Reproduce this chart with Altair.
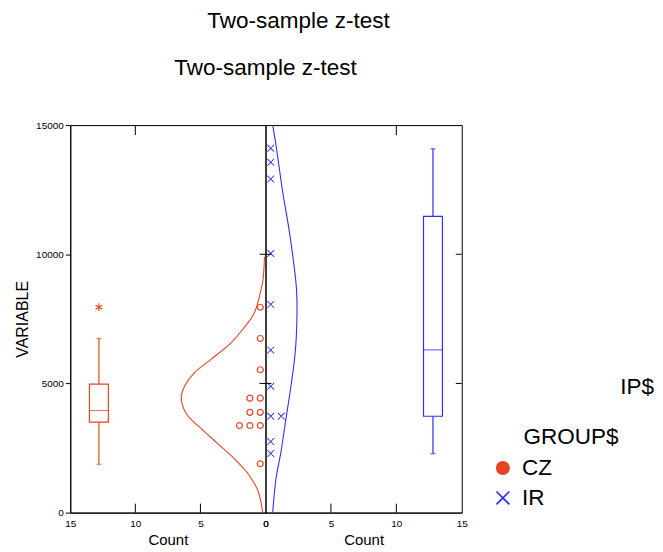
import altair as alt
import pandas as pd

FONT = "Liberation Sans"
TITLE = "Two-sample z-test"
Y_TITLE = "VARIABLE"
X_TITLE = "Count"
LEGEND_TITLE = "GROUP$"
CLIPPED_TEXT = "IP$"
GROUPS = ["CZ", "IR"]
RED = "#e8441f"
BLUE = "#3030f2"

CZ_VALUES = [7950, 6740, 5530, 4430, 4430, 3880, 3880, 3370, 3370, 3370, 1890]
IR_VALUES = [14100, 13560, 12910, 10030, 8060, 6290, 4890, 3730, 3730, 2750, 2290]

# box plot statistics
BOX_STATS = ["lo", "q1", "med", "q3", "hi"]
CZ_BOX = [1870, 3500, 3950, 4970, 6740]
IR_BOX = [2280, 3730, 6300, 11470, 14080]
CZ_OUTLIERS = [7950]

# fitted normal curves (value, count)
CZ_CURVE_VALUE = [0, 798, 1438, 2083, 2661, 3240, 3818, 4450, 4909, 5426, 5939, 6583, 7096, 7740, 8512, 9024, 9900]
CZ_CURVE_COUNT = [0.22, 0.55, 1.24, 2.38, 3.65, 4.92, 6.07, 6.47, 6.20, 5.44, 4.16, 2.63, 1.74, 0.85, 0.40, 0.19, 0.08]
IR_CURVE_VALUE = [0, 1311, 2341, 3625, 4909, 6197, 7482, 8573, 9476, 10887, 12430, 14231, 15000]
IR_CURVE_COUNT = [0.55, 0.80, 1.18, 1.56, 1.95, 2.27, 2.40, 2.38, 2.20, 1.82, 1.31, 0.80, 0.55]

Y_TICK_VALUES = [0, 5000, 10000, 15000]
X_TICK_VALUES = [0, 5, 10, 15]
INNER_Y_TICKS = [5000, 10000]
BOTTOM_TICKS = [5, 10]
TOP_TICKS = [10]

BOX_AT = 12.8
DOT_STEP = 0.8
# filled "x" glyph and asterisk glyph
X_PATH = "M-1,-0.83L-0.83,-1L0,-0.17L0.83,-1L1,-0.83L0.17,0L1,0.83L0.83,1L0,0.17L-0.83,1L-1,0.83L-0.17,0Z"
STAR_PATH = "M0,-1L0,1M-0.87,-0.5L0.87,0.5M-0.87,0.5L0.87,-0.5"

W_L, W_R, H = 196, 197, 389
BIG = 22.6

ys = alt.Scale(domain=[0, 15000], nice=False, zero=False, padding=0)


def panel(values, group, box, cv, cc, color, reverse, width, left):
    xs = alt.Scale(domain=[0, 15], nice=False, zero=False, reverse=reverse, padding=0)
    xax = alt.Axis(values=X_TICK_VALUES, ticks=False, domain=True, domainColor="black",
                   labelFontSize=10, labelPadding=6, labelColor="black", labelFlush=False,
                   labelAlign="center", labelBound=False, labelOverlap=False,
                   labelFont=FONT, title=X_TITLE, titleFontSize=15, titleFontWeight="normal",
                   titleFont=FONT, titlePadding=4, titleColor="black", grid=False)
    if left:
        yax = alt.Axis(values=Y_TICK_VALUES, tickSize=5, tickColor="black", domainColor="black",
                       labelFontSize=10, labelPadding=2, labelColor="black", labelFont=FONT,
                       format="d", title=Y_TITLE, titleFontSize=16, titleFontWeight="normal",
                       titleFont=FONT, titleColor="black", titlePadding=5, grid=False)
    else:
        yax = None

    def X(f):
        return alt.X(f, type="quantitative", scale=xs, axis=xax)

    def Y(f):
        return alt.Y(f, type="quantitative", scale=ys, axis=yax)

    XD = alt.XDatum(BOX_AT, type="quantitative", scale=xs, axis=xax)

    curve_df = pd.DataFrame({"value": cv, "count": cc})
    dots_df = pd.DataFrame({"value": values, "group": group})
    box_df = pd.DataFrame([dict(zip(BOX_STATS, box))])

    curve = alt.Chart(curve_df).mark_line(color=color, strokeWidth=1.1, interpolate="catmull-rom").encode(
        x=X("count"), y=Y("value"), order=alt.Order("value:Q"))

    base_dots = alt.Chart(dots_df).transform_window(
        rank="row_number()", groupby=["value"]).transform_calculate(
        pos=f"(datum.rank - 0.5) * {DOT_STEP}")
    if left:
        dots = base_dots.mark_point(filled=False, size=36, strokeWidth=1.2, opacity=1,
                                    color=color, shape="circle").encode(x=X("pos"), y=Y("value"))
    else:
        leg = alt.Legend(orient="none", legendX=227, legendY=333, title=None,
                         labelFontSize=BIG, labelFont=FONT, labelColor="black", symbolSize=200,
                         symbolStrokeWidth=0, rowPadding=7, labelOffset=8)
        dots = base_dots.mark_point(filled=True, size=56, strokeWidth=0, opacity=1).encode(
            x=X("pos"), y=Y("value"),
            color=alt.Color("group:N", scale=alt.Scale(domain=GROUPS, range=[RED, BLUE]), legend=leg),
            shape=alt.Shape("group:N", scale=alt.Scale(domain=GROUPS, range=["circle", X_PATH]), legend=leg))

    boxm = alt.Chart(box_df).mark_bar(filled=False, color=color, strokeWidth=1.2, size=19).encode(
        x=XD, y=Y("q1"), y2="q3")
    med = alt.Chart(box_df).mark_tick(orient="horizontal", size=19, thickness=1.2, color=color).encode(
        x=XD, y=Y("med"))
    wl = alt.Chart(box_df).mark_rule(color=color, strokeWidth=1.2).encode(x=XD, y=Y("lo"), y2="q1")
    wh = alt.Chart(box_df).mark_rule(color=color, strokeWidth=1.2).encode(x=XD, y=Y("q3"), y2="hi")
    caps = alt.Chart(box_df).transform_fold(["lo", "hi"], as_=["k", "v"]).mark_tick(
        orient="horizontal", size=5, thickness=1.2, color=color).encode(x=XD, y=Y("v:Q"))

    tdf_y = pd.DataFrame({"v": INNER_Y_TICKS})
    tick_layers = []
    if left:
        tick_layers.append(alt.Chart(tdf_y).mark_rule(color="black").encode(
            y=Y("v"), x=alt.value(width - 6), x2=alt.value(width)))
    else:
        tick_layers.append(alt.Chart(tdf_y).mark_rule(color="black").encode(
            y=Y("v"), x=alt.value(0), x2=alt.value(6)))
        tick_layers.append(alt.Chart(tdf_y).mark_rule(color="black").encode(
            y=Y("v"), x=alt.value(width - 6), x2=alt.value(width)))
    tick_layers.append(alt.Chart(pd.DataFrame({"c": BOTTOM_TICKS})).mark_rule(color="black").encode(
        x=X("c"), y=alt.value(H - 9), y2=alt.value(H)))
    tick_layers.append(alt.Chart(pd.DataFrame({"c": TOP_TICKS})).mark_rule(color="black").encode(
        x=X("c"), y=alt.value(0), y2=alt.value(10)))

    layers = [curve, dots, boxm, med, wl, wh, caps] + tick_layers
    if left:
        outl = alt.Chart(pd.DataFrame({"value": CZ_OUTLIERS})).mark_point(
            shape=STAR_PATH, size=60, filled=False, color=color, strokeWidth=1.2, opacity=1).encode(
            x=XD, y=Y("value"))
        layers.append(outl)
    else:
        texts = alt.Chart(pd.DataFrame({"t": [CLIPPED_TEXT, LEGEND_TITLE],
                                        "px": [356, 259], "py": [263, 313]})).mark_text(
            align="left", baseline="middle", fontSize=BIG, font=FONT, color="black").encode(
            text="t:N", x=alt.X("px:Q", scale=None, axis=None), y=alt.Y("py:Q", scale=None, axis=None))
        layers.append(texts)
    return alt.layer(*layers).properties(width=width, height=H)


left = panel(CZ_VALUES, "CZ", CZ_BOX, CZ_CURVE_VALUE, CZ_CURVE_COUNT, RED, True, W_L, True)
right = panel(IR_VALUES, "IR", IR_BOX, IR_CURVE_VALUE, IR_CURVE_COUNT, BLUE, False, W_R, False)

inner = alt.hconcat(left, right, spacing=0, bounds="flush").resolve_scale(
    x="independent", y="independent", color="independent", shape="independent").properties(
    title=alt.TitleParams(TITLE, fontSize=BIG, fontWeight="normal", font=FONT, color="black",
                          anchor="middle", offset=40, dx=-69))

chart = alt.vconcat(inner).properties(
    title=alt.TitleParams(TITLE, fontSize=BIG, fontWeight="normal", font=FONT, color="black",
                          anchor="middle", offset=25, dx=-36),
    padding={"left": 5.5, "top": 0.5, "right": 0, "bottom": 0},
).configure(font=FONT).configure_view(stroke="black", strokeWidth=1).configure_axisX(labelFlush=False)

chart.save("out.html", embed_options={"renderer": "svg", "actions": False})
